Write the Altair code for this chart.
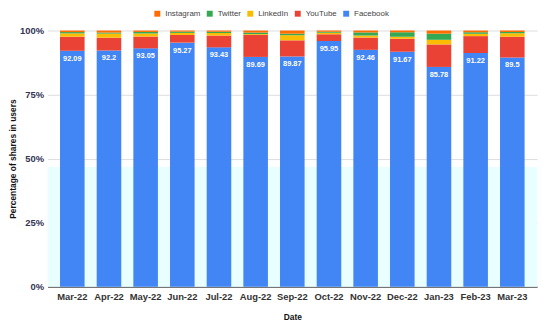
import altair as alt
import pandas as pd

dates = ["Mar-22", "Apr-22", "May-22", "Jun-22", "Jul-22", "Aug-22", "Sep-22",
         "Oct-22", "Nov-22", "Dec-22", "Jan-23", "Feb-23", "Mar-23"]
facebook = [92.09, 92.2, 93.05, 95.27, 93.43, 89.69, 89.87, 95.95, 92.46, 91.67, 85.78, 91.22, 89.5]
fb_labels = ["92.09", "92.2", "93.05", "95.27", "93.43", "89.69", "89.87", "95.95", "92.46", "91.67", "85.78", "91.22", "89.5"]
youtube = [5.5, 5.0, 4.6, 3.0, 4.6, 8.6, 6.3, 2.6, 4.8, 5.1, 8.8, 6.6, 8.1]
linkedin = [1.3, 1.6, 1.2, 0.8, 1.0, 0.3, 2.0, 0.6, 0.8, 0.8, 1.8, 0.9, 1.3]
twitter = [0.5, 0.4, 0.6, 0.5, 0.5, 0.6, 0.6, 0.4, 1.2, 1.8, 2.4, 0.6, 0.5]
instagram = [0.61, 0.8, 0.55, 0.43, 0.47, 0.81, 1.23, 0.45, 0.74, 0.63, 1.22, 0.68, 0.6]

platforms = ["Instagram", "Twitter", "LinkedIn", "YouTube", "Facebook"]
colors = ["#FF6D01", "#34A853", "#FBBC04", "#EA4335", "#4285F4"]
stack_rank = {"Facebook": 0, "YouTube": 1, "LinkedIn": 2, "Twitter": 3, "Instagram": 4}
series = {"Facebook": facebook, "YouTube": youtube, "LinkedIn": linkedin,
          "Twitter": twitter, "Instagram": instagram}

# faint background band seen in the lower part of the reference
shade_from = [0]
shade_to = [46.7]

rows = []
for i, d in enumerate(dates):
    for p, vals in series.items():
        rows.append({"Date": d, "Platform": p, "Share": vals[i], "rank": stack_rank[p]})
df = pd.DataFrame(rows)
labels_df = pd.DataFrame({"Date": dates, "Share": facebook, "Label": fb_labels})
shade_df = pd.DataFrame({"y0": shade_from, "y1": shade_to})

FONT = "Liberation Sans"
YTITLE = "Percentage of shares in users"

x_enc = alt.X("Date:N", sort=dates, title="Date",
              scale=alt.Scale(paddingInner=0.33, paddingOuter=0.34),
              axis=alt.Axis(labelAngle=0, ticks=False, labelPadding=5,
                            domainColor="#333333", labelFontSize=9.5,
                            labelFontWeight="bold", labelColor="#333333",
                            titleFontSize=8.5, titleFontWeight="bold",
                            titleColor="#111111", titlePadding=12, labelFont=FONT,
                            titleFont=FONT))
y_axis = alt.Axis(values=[0, 25, 50, 75, 100], labelExpr="datum.value + '%'",
                  domain=False, ticks=False, gridColor="#dddddd",
                  labelFontSize=9.5, labelFontWeight="bold", labelColor="#333355",
                  labelPadding=4, titleFontSize=8.5, titleFontWeight="bold",
                  titleColor="#111111", titlePadding=2, labelFont=FONT, titleFont=FONT)
y_scale = alt.Scale(domain=[0, 100], nice=False)

shade = alt.Chart(shade_df).mark_rect(color="#e8feff").encode(
    y=alt.Y("y0:Q", scale=y_scale, axis=y_axis, title=YTITLE),
    y2="y1:Q",
    x=alt.value(0),
    x2=alt.value(495),
)

bars = alt.Chart(df).mark_bar().encode(
    x=x_enc,
    y=alt.Y("Share:Q", stack="zero", scale=y_scale, axis=y_axis, title=YTITLE),
    color=alt.Color("Platform:N", scale=alt.Scale(domain=platforms, range=colors),
                    legend=alt.Legend(orient="none", legendX=107, legendY=-21,
                                      direction="horizontal", title=None,
                                      symbolType="square", symbolSize=36,
                                      symbolStrokeWidth=0, labelFontSize=8,
                                      labelOffset=4, labelColor="#444444",
                                      columnPadding=5, labelFont=FONT)),
    order=alt.Order("rank:Q", sort="ascending"),
)

text = alt.Chart(labels_df).mark_text(
    color="white", fontWeight="bold", fontSize=7.5, baseline="top", dy=4, font=FONT
).encode(
    x=alt.X("Date:N", sort=dates),
    y=alt.Y("Share:Q", scale=y_scale),
    text="Label:N",
)

chart = alt.layer(shade, bars, text).properties(
    width=495, height=259,
    autosize=alt.AutoSizeParams(type="none"),
    padding={"left": 40, "top": 21, "right": 5, "bottom": 37},
).configure_view(stroke=None)

chart.save("out.html", embed_options={"renderer": "svg", "actions": False})
